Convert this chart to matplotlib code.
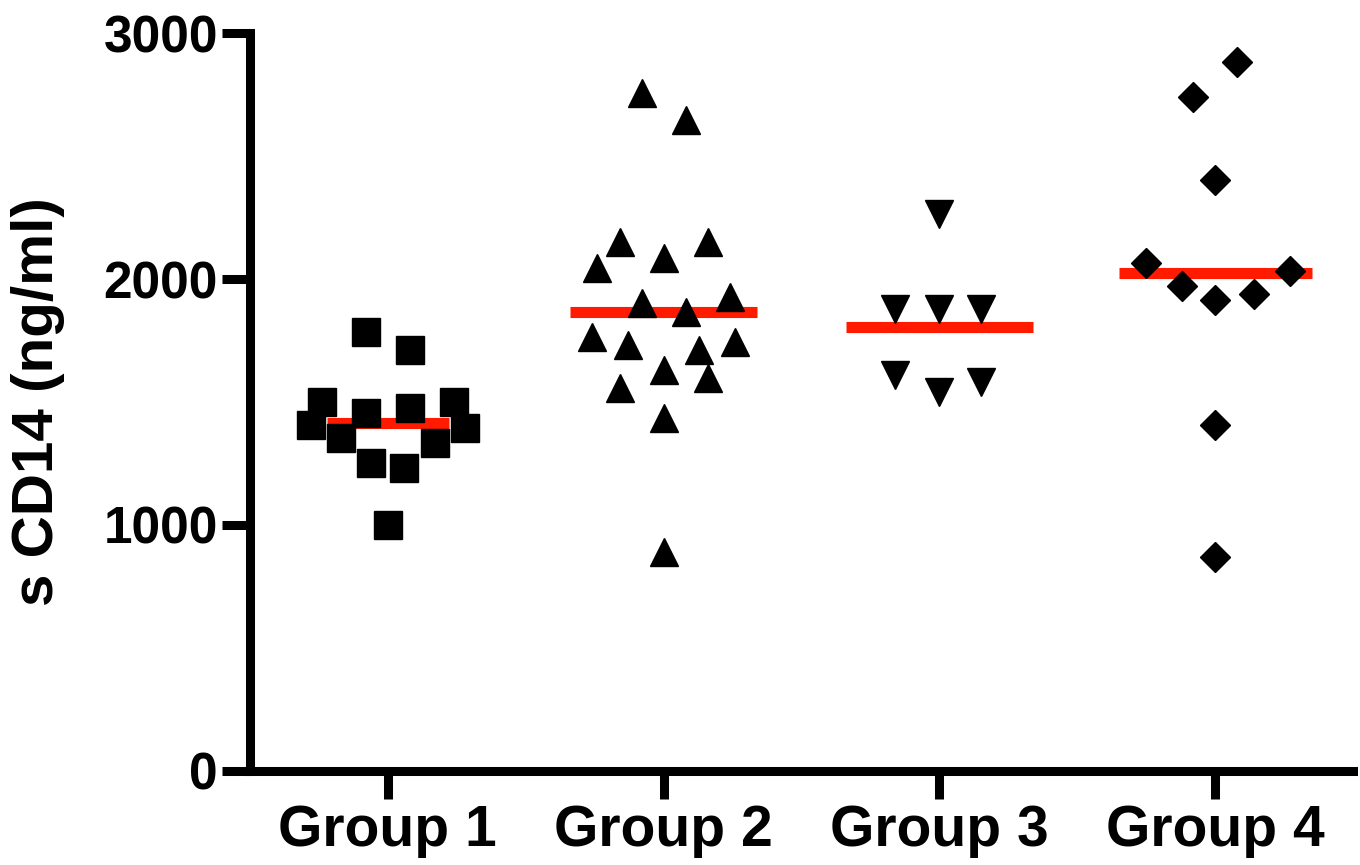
import numpy as np
import matplotlib.pyplot as plt

plt.rcParams['font.family'] = ['Liberation Sans', 'DejaVu Sans']
plt.rcParams['font.weight'] = 'bold'

grupos = ['Group 1', 'Group 2', 'Group 3', 'Group 4']

g1_vals = [1785, 1711, 1500, 1407, 1455, 1476, 1500, 1394, 1354, 1333, 1252, 1232, 1000]
g1_off = [-0.08, 0.08, -0.24, -0.28, -0.08, 0.08, 0.24, 0.28, -0.17, 0.17, -0.06, 0.06, 0.0]

g2_vals = [2756, 2646, 2150, 2150, 2045, 2085, 1927, 1902, 1866, 1764, 1732, 1744,
           1711, 1630, 1598, 1557, 1435, 890]
g2_off = [-0.08, 0.08, -0.16, 0.16, -0.24, 0.0, 0.24, -0.08, 0.08, -0.26, -0.13, 0.26,
          0.13, 0.0, 0.16, -0.16, 0.0, 0.0]

g3_vals = [2264, 1878, 1878, 1878, 1610, 1541, 1581]
g3_off = [0.0, -0.16, 0.0, 0.15, -0.16, 0.0, 0.15]

g4_vals = [2882, 2740, 2402, 2065, 2033, 1972, 1915, 1939, 1407, 870]
g4_off = [0.08, -0.08, 0.0, -0.25, 0.27, -0.12, 0.0, 0.14, 0.0, 0.0]

valores = [g1_vals, g2_vals, g3_vals, g4_vals]
offsets = [g1_off, g2_off, g3_off, g4_off]
marcadores = ['s', '^', 'v', 'D']
tamanhos = [20, 20, 20, 15]
meia_largura = [0.22, 0.34, 0.34, 0.35]

fig = plt.figure(figsize=(13.6, 8.65), dpi=100)
ax = fig.add_axes([0.1838, 0.1087, 0.9949 - 0.1838, 0.9618 - 0.1087])

for i, (vals, offs) in enumerate(zip(valores, offsets)):
    x0 = i + 1
    xs = [x0 + o for o in offs]
    ax.plot(xs, vals, linestyle='none', marker=marcadores[i], markersize=tamanhos[i],
            color='black', zorder=3)
    media = np.mean(vals)
    ax.plot([x0 - meia_largura[i], x0 + meia_largura[i]], [media, media],
            color='#ff1a00', linewidth=8, solid_capstyle='butt', zorder=2)

ax.set_xlim(0.5, 4.5)
ax.set_ylim(0, 3000)
ax.set_xticks(range(1, len(grupos) + 1))
ax.set_xticklabels(grupos)
ax.set_yticks([0, 1000, 2000, 3000])

for lado in ['top', 'right']:
    ax.spines[lado].set_visible(False)
for lado in ['left', 'bottom']:
    ax.spines[lado].set_linewidth(6.5)

ax.tick_params(axis='both', direction='out', length=20, width=6.5)
ax.tick_params(axis='y', labelsize=37, pad=3)
ax.tick_params(axis='x', labelsize=41, pad=4)

ax.set_ylabel('s CD14 (ng/ml)', fontsize=42, fontweight='bold')
ax.yaxis.set_label_coords(-0.168, 0.5)

plt.savefig('out.png', dpi=100)
